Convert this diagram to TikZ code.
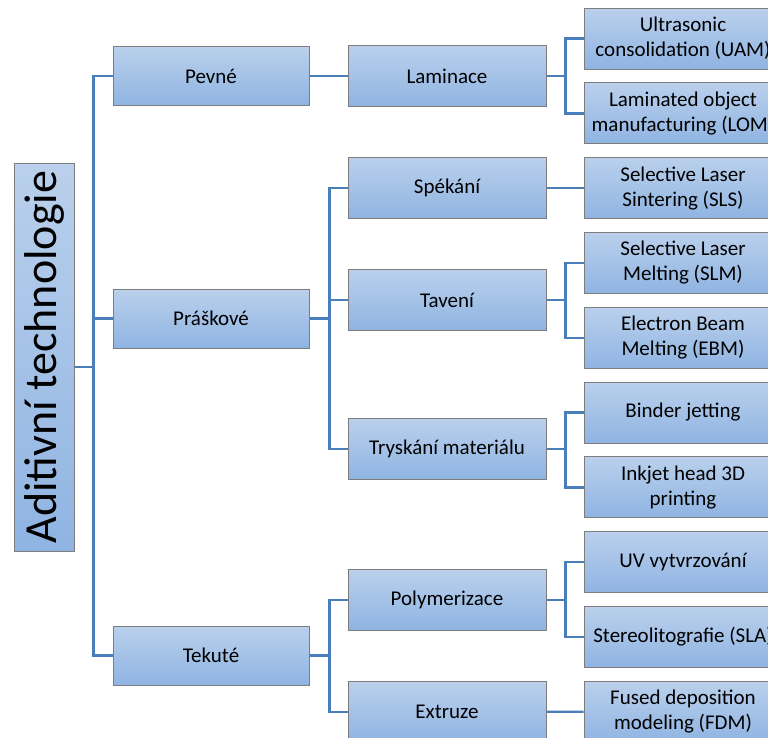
\documentclass[tikz,border=0pt]{standalone}
\usepackage{fontspec}
\setmainfont{Carlito}
\definecolor{boxtop}{RGB}{186,208,236}
\definecolor{boxbot}{RGB}{143,180,226}
\definecolor{boxline}{RGB}{125,125,125}
\definecolor{linkblue}{RGB}{74,126,187}
\tikzset{
  box/.style={draw=boxline, line width=1pt, top color=boxtop, bottom color=boxbot,
    align=center, inner sep=0pt, font=\fontsize{21}{25}\selectfont},
  rootbox/.style={box, minimum width=60pt, minimum height=388pt},
  lvlone/.style={box, minimum width=196pt, minimum height=59pt},
  lvltwo/.style={box, minimum width=198pt, minimum height=61pt},
  leaf/.style={box, minimum width=198pt, minimum height=61pt},
  link/.style={draw=linkblue, line width=2.4pt}
}
\begin{document}
\begin{tikzpicture}[x=1pt,y=-1pt]
\useasboundingbox (0,0) rectangle (768,737);
\clip (0,0) rectangle (768,737);

%ROOT
\node [rootbox] (root) at (44,357)
  {\rotatebox{90}{\fontsize{46}{50}\selectfont Aditivní technologie}};

%Level 1
\node [lvlone] (pev) at (211,76)    {Pevné};
\node [lvlone] (pra) at (211,318.5) {Práškové};
\node [lvlone] (tek) at (211,655.5) {Tekuté};

%Level 2
\node [lvltwo] (lam)  at (447,76)    {Laminace};
\node [lvltwo] (spe)  at (447,188.1) {Spékání};
\node [lvltwo] (tav)  at (447,300)   {Tavení};
\node [lvltwo] (trys) at (447,449)   {Tryskání materiálu};
\node [lvltwo] (poly) at (447,600)   {Polymerizace};
\node [lvltwo] (ext)  at (447,711.7) {Extruze};

%Level 3
\foreach \n/\t [count=\i from 0] in {
  uam/{Ultrasonic\\consolidation (UAM)},
  lom/{Laminated object\\manufacturing (LOM)},
  sls/{Selective Laser\\Sintering (SLS)},
  slm/{Selective Laser\\Melting (SLM)},
  ebm/{Electron Beam\\Melting (EBM)},
  bj/{Binder jetting},
  ink/{Inkjet head 3D\\printing},
  uv/{UV vytvrzování},
  sla/{Stereolitografie (SLA)},
  fdm/{Fused deposition\\modeling (FDM)}}
{
\node [leaf] (\n) at (683,38.5+74.8*\i) {\t};
}

%Connectors
\draw [link] ([yshift=-10pt]root.east) -- ++(19,0) coordinate (bus0);
\foreach \c in {pev,pra,tek}
  \draw [link] (bus0) |- (\c.west);

\draw [link] (pev.east) -- (lam.west);
\draw [link] (pra.east) -- ++(20,0) coordinate (bus1);
\foreach \c in {spe,tav,trys}
  \draw [link] (bus1) |- (\c.west);
\draw [link] (tek.east) -- ++(20,0) coordinate (bus2);
\foreach \c in {poly,ext}
  \draw [link] (bus2) |- (\c.west);

\draw [link] (spe.east) -- (sls.west);
\draw [link] (ext.east) -- (fdm.west);
\foreach \p/\a/\b in {lam/uam/lom,tav/slm/ebm,trys/bj/ink,poly/uv/sla}
{
\draw [link] (\p.east) -- ++(19,0) coordinate (b\p);
\draw [link] (b\p) |- (\a.west);
\draw [link] (b\p) |- (\b.west);
}

\end{tikzpicture}
\end{document}
